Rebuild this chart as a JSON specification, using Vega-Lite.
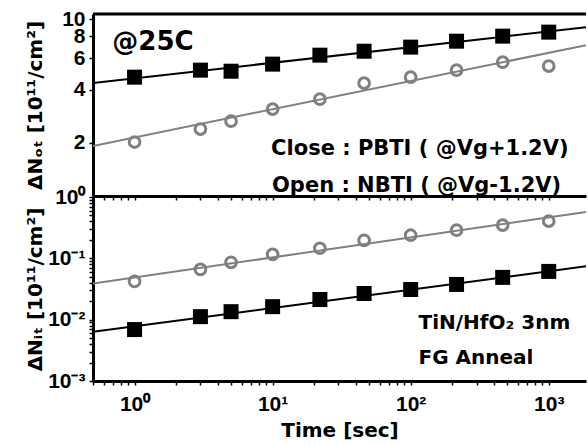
{
  "$schema": "https://vega.github.io/schema/vega-lite/v6.json",
  "background": "white",
  "padding": {"left": 25, "top": 8, "right": 0, "bottom": 0},
  "spacing": 1,
  "bounds": "flush",
  "config": {
    "view": {"stroke": null},
    "font": "Liberation Sans",
    "axis": {
      "labelFont": "Liberation Sans", "labelFontWeight": "bold", "labelFontSize": 21, "labelColor": "black",
      "titleFont": "DejaVu Sans", "titleFontWeight": "bold", "titleFontSize": 20, "titleColor": "black",
      "domainColor": "black", "domainWidth": 3, "tickColor": "black", "tickWidth": 1.5, "tickSize": 4,
      "grid": false, "labelOverlap": false, "labelFlush": false
    }
  },
  "datasets": {
    "points": [
      {"panel": "ot", "series": "Close", "t": 1, "v": 4.70},
      {"panel": "ot", "series": "Close", "t": 3, "v": 5.15},
      {"panel": "ot", "series": "Close", "t": 5, "v": 5.08},
      {"panel": "ot", "series": "Close", "t": 10, "v": 5.57},
      {"panel": "ot", "series": "Close", "t": 22, "v": 6.26},
      {"panel": "ot", "series": "Close", "t": 46, "v": 6.59},
      {"panel": "ot", "series": "Close", "t": 100, "v": 6.95},
      {"panel": "ot", "series": "Close", "t": 215, "v": 7.51},
      {"panel": "ot", "series": "Close", "t": 464, "v": 8.02},
      {"panel": "ot", "series": "Close", "t": 1000, "v": 8.45},
      {"panel": "ot", "series": "Open", "t": 1, "v": 2.02},
      {"panel": "ot", "series": "Open", "t": 3, "v": 2.39},
      {"panel": "ot", "series": "Open", "t": 5, "v": 2.65},
      {"panel": "ot", "series": "Open", "t": 10, "v": 3.10},
      {"panel": "ot", "series": "Open", "t": 22, "v": 3.53},
      {"panel": "ot", "series": "Open", "t": 46, "v": 4.35},
      {"panel": "ot", "series": "Open", "t": 100, "v": 4.70},
      {"panel": "ot", "series": "Open", "t": 215, "v": 5.15},
      {"panel": "ot", "series": "Open", "t": 464, "v": 5.71},
      {"panel": "ot", "series": "Open", "t": 1000, "v": 5.43},
      {"panel": "it", "series": "Close", "t": 1, "v": 0.0069},
      {"panel": "it", "series": "Close", "t": 3, "v": 0.0112},
      {"panel": "it", "series": "Close", "t": 5, "v": 0.0135},
      {"panel": "it", "series": "Close", "t": 10, "v": 0.0163},
      {"panel": "it", "series": "Close", "t": 22, "v": 0.0213},
      {"panel": "it", "series": "Close", "t": 46, "v": 0.0267},
      {"panel": "it", "series": "Close", "t": 100, "v": 0.031},
      {"panel": "it", "series": "Close", "t": 215, "v": 0.0375},
      {"panel": "it", "series": "Close", "t": 464, "v": 0.0489},
      {"panel": "it", "series": "Close", "t": 1000, "v": 0.0612},
      {"panel": "it", "series": "Open", "t": 1, "v": 0.042},
      {"panel": "it", "series": "Open", "t": 3, "v": 0.066},
      {"panel": "it", "series": "Open", "t": 5, "v": 0.086},
      {"panel": "it", "series": "Open", "t": 10, "v": 0.116},
      {"panel": "it", "series": "Open", "t": 22, "v": 0.146},
      {"panel": "it", "series": "Open", "t": 46, "v": 0.197},
      {"panel": "it", "series": "Open", "t": 100, "v": 0.238},
      {"panel": "it", "series": "Open", "t": 215, "v": 0.288},
      {"panel": "it", "series": "Open", "t": 464, "v": 0.348},
      {"panel": "it", "series": "Open", "t": 1000, "v": 0.404}
    ],
    "fits": [
      {"panel": "ot", "series": "Close", "t": 0.5, "v": 4.35},
      {"panel": "ot", "series": "Close", "t": 1862, "v": 9.0},
      {"panel": "ot", "series": "Open", "t": 0.5, "v": 1.92},
      {"panel": "ot", "series": "Open", "t": 1862, "v": 7.13},
      {"panel": "it", "series": "Close", "t": 0.5, "v": 0.00635},
      {"panel": "it", "series": "Close", "t": 1862, "v": 0.074},
      {"panel": "it", "series": "Open", "t": 0.5, "v": 0.039},
      {"panel": "it", "series": "Open", "t": 1862, "v": 0.568}
    ],
    "notes": [
      {"panel": "ot", "kind": "big", "t": 0.69, "v": 6.68, "label": "@25C"},
      {"panel": "ot", "kind": "mid", "t": 9.75, "v": 1.70, "label": "Close : PBTI ( @Vg+1.2V)"},
      {"panel": "ot", "kind": "mid", "t": 9.9, "v": 1.053, "label": "Open : NBTI ( @Vg-1.2V)"},
      {"panel": "it", "kind": "mid", "t": 114, "v": 0.007, "label": "TiN/HfO₂ 3nm"},
      {"panel": "it", "kind": "mid", "t": 114, "v": 0.0019, "label": "FG Anneal"}
    ]
  },
  "vconcat": [
    {
      "width": 493,
      "height": 182,
      "layer": [
        {
          "data": {"name": "fits"},
          "transform": [{"filter": "datum.panel == 'ot'"}],
          "mark": {"type": "line", "strokeWidth": 2, "clip": true},
          "encoding": {
            "x": {"field": "t", "type": "quantitative",
              "scale": {"type": "log", "domain": [0.5, 1862], "nice": false},
              "axis": {"orient": "bottom", "labels": false, "title": null, "tickSize": 4,
                "values": [0.5,0.6,0.7,0.8,0.9,1,2,3,4,5,6,7,8,9,10,20,30,40,50,60,70,80,90,100,200,300,400,500,600,700,800,900,1000]}},
            "y": {"field": "v", "type": "quantitative",
              "scale": {"type": "log", "domain": [1, 10.7], "nice": false},
              "axis": {"values": [2, 4, 6, 8, 10],
                "labelExpr": "format(datum.value, 'd')",
                "title": "ΔNₒₜ [10¹¹/cm²]", "titlePadding": 0,
                "minExtent": 48, "maxExtent": 48, "labelPadding": 4, "tickSize": 4}},
            "color": {"field": "series", "type": "nominal", "scale": {"domain": ["Close", "Open"], "range": ["#000000", "#808080"]}, "legend": null}
          }
        },
        {
          "data": {"name": "points"},
          "transform": [{"filter": "datum.panel == 'ot' && datum.series == 'Close'"}],
          "mark": {"type": "point", "shape": "square", "filled": true, "color": "#000000", "size": 225, "opacity": 1},
          "encoding": {"x": {"field": "t", "type": "quantitative"}, "y": {"field": "v", "type": "quantitative"}}
        },
        {
          "data": {"name": "points"},
          "transform": [{"filter": "datum.panel == 'ot' && datum.series == 'Open'"}],
          "mark": {"type": "point", "shape": "circle", "filled": false, "stroke": "#808080", "strokeWidth": 3, "size": 115, "opacity": 1},
          "encoding": {"x": {"field": "t", "type": "quantitative"}, "y": {"field": "v", "type": "quantitative"}}
        },
        {
          "data": {"values": [{"v": 10.7}]},
          "mark": {"type": "rule", "color": "black", "strokeWidth": 3},
          "encoding": {"y": {"field": "v", "type": "quantitative"}}
        },
        {
          "data": {"name": "notes"},
          "transform": [{"filter": "datum.panel == 'ot' && datum.kind == 'big'"}],
          "mark": {"type": "text", "align": "left", "baseline": "alphabetic", "fontSize": 26, "fontWeight": "bold", "font": "DejaVu Sans", "color": "black"},
          "encoding": {"x": {"field": "t", "type": "quantitative"}, "y": {"field": "v", "type": "quantitative"}, "text": {"field": "label"}}
        },
        {
          "data": {"name": "notes"},
          "transform": [{"filter": "datum.panel == 'ot' && datum.kind == 'mid'"}],
          "mark": {"type": "text", "align": "left", "baseline": "alphabetic", "fontSize": 21, "fontWeight": "bold", "font": "DejaVu Sans", "color": "black"},
          "encoding": {"x": {"field": "t", "type": "quantitative"}, "y": {"field": "v", "type": "quantitative"}, "text": {"field": "label"}}
        }
      ]
    },
    {
      "width": 493,
      "height": 184,
      "layer": [
        {
          "data": {"name": "fits"},
          "transform": [{"filter": "datum.panel == 'it'"}],
          "mark": {"type": "line", "strokeWidth": 2, "clip": true},
          "encoding": {
            "x": {"field": "t", "type": "quantitative",
              "scale": {"type": "log", "domain": [0.5, 1862], "nice": false},
              "axis": {"orient": "bottom", "title": "Time [sec]", "titlePadding": 6,
                "values": [0.5,0.6,0.7,0.8,0.9,1,2,3,4,5,6,7,8,9,10,20,30,40,50,60,70,80,90,100,200,300,400,500,600,700,800,900,1000],
                "labelExpr": "datum.value == 1 ? '10⁰' : datum.value == 10 ? '10¹' : datum.value == 100 ? '10²' : datum.value == 1000 ? '10³' : ''",
                "labelPadding": 8, "tickSize": 4}},
            "y": {"field": "v", "type": "quantitative",
              "scale": {"type": "log", "domain": [0.001, 1], "nice": false},
              "axis": {"values": [0.001,0.002,0.003,0.004,0.005,0.006,0.007,0.008,0.009,0.01,0.02,0.03,0.04,0.05,0.06,0.07,0.08,0.09,0.1,0.2,0.3,0.4,0.5,0.6,0.7,0.8,0.9,1],
                "labelExpr": "datum.value == 1 ? '10⁰' : datum.value == 0.1 ? '10⁻¹' : datum.value == 0.01 ? '10⁻²' : datum.value == 0.001 ? '10⁻³' : ''",
                "title": "ΔNᵢₜ [10¹¹/cm²]", "titlePadding": 0,
                "minExtent": 48, "maxExtent": 48, "labelPadding": 4, "tickSize": 4}},
            "color": {"field": "series", "type": "nominal", "scale": {"domain": ["Close", "Open"], "range": ["#000000", "#808080"]}, "legend": null}
          }
        },
        {
          "data": {"name": "points"},
          "transform": [{"filter": "datum.panel == 'it' && datum.series == 'Close'"}],
          "mark": {"type": "point", "shape": "square", "filled": true, "color": "#000000", "size": 225, "opacity": 1},
          "encoding": {"x": {"field": "t", "type": "quantitative"}, "y": {"field": "v", "type": "quantitative"}}
        },
        {
          "data": {"name": "points"},
          "transform": [{"filter": "datum.panel == 'it' && datum.series == 'Open'"}],
          "mark": {"type": "point", "shape": "circle", "filled": false, "stroke": "#808080", "strokeWidth": 3, "size": 115, "opacity": 1},
          "encoding": {"x": {"field": "t", "type": "quantitative"}, "y": {"field": "v", "type": "quantitative"}}
        },
        {
          "data": {"name": "notes"},
          "transform": [{"filter": "datum.panel == 'it'"}],
          "mark": {"type": "text", "align": "left", "baseline": "alphabetic", "fontSize": 20, "fontWeight": "bold", "font": "DejaVu Sans", "color": "black"},
          "encoding": {"x": {"field": "t", "type": "quantitative"}, "y": {"field": "v", "type": "quantitative"}, "text": {"field": "label"}}
        }
      ]
    }
  ]
}
